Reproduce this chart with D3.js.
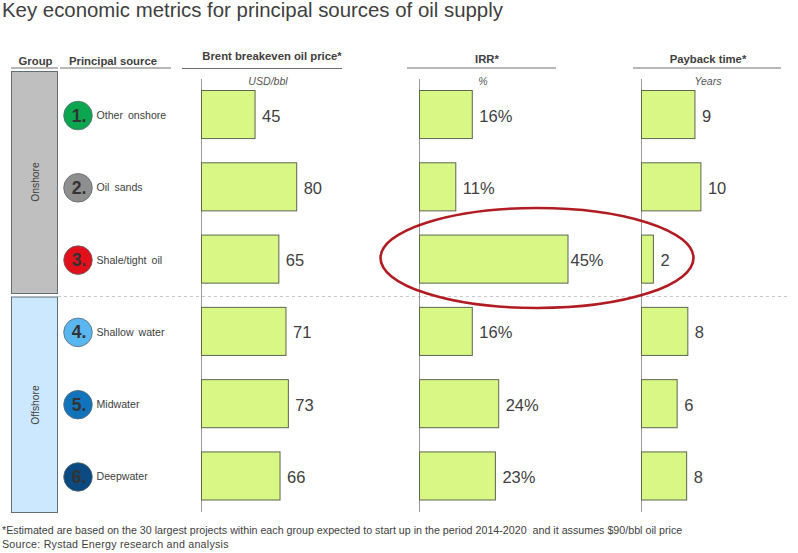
<!DOCTYPE html>
<html><head><meta charset="utf-8">
<script src="https://cdn.jsdelivr.net/npm/d3@7"></script>
<style>html,body{margin:0;padding:0;background:#fff}svg{display:block}text{font-family:"Liberation Sans",Arial,sans-serif}</style>
</head><body><svg id="c" width="798" height="553"></svg>
<script>
const sources = ["Other onshore","Oil sands","Shale/tight oil","Shallow water","Midwater","Deepwater"];
const dotColors = ["#0ba64f","#8f8f8f","#e2101a","#5ab6f0","#1273bd","#0b4a80"];
const breakeven = [45,80,65,71,73,66];
const irr = [16,11,45,16,24,23];
const payback = [9,10,2,7.8,6,7.6];
const groups = ["Onshore","Offshore"];
const panelTitles = ["Brent breakeven oil price*","IRR*","Payback time*"];
const panelUnits = ["USD/bbl","%","Years"];
const footnotes = ["*Estimated are based on the 30 largest projects within each group expected to start up in the period 2014-2020  and it assumes $90/bbl oil price","Source: Rystad Energy research and analysis"];

const svg = d3.select("#c");
const ink = "#404040";
svg.append("text").attr("x",2).attr("y",17).attr("font-size",20.4).attr("fill",ink).text("Key economic metrics for principal sources of oil supply");

function header(t,x1,x2,cx,y,ly){
  svg.append("text").attr("x",cx).attr("y",y).attr("text-anchor","middle").attr("font-size",11.3).attr("font-weight","bold").attr("fill",ink).text(t);
  svg.append("line").attr("x1",x1).attr("x2",x2).attr("y1",ly).attr("y2",ly).attr("stroke","#707070").attr("stroke-width",1.2);
}
header("Group",11,58,35.5,64.5,68);
header("Principal source",60,171,113,64.5,68);

const y = d3.scaleBand().domain(sources).range([90.5,500]).paddingInner(0.335);

// group boxes
const boxes = [[71.5,293.5,"#bfbfbf"],[297,512.5,"#cce8ff"]];
svg.selectAll("rect.g").data(groups).join("rect").attr("class","g")
  .attr("x",11.5).attr("width",46).attr("y",(d,i)=>boxes[i][0]).attr("height",(d,i)=>boxes[i][1]-boxes[i][0])
  .attr("fill",(d,i)=>boxes[i][2]).attr("stroke","#5f6f78").attr("stroke-width",1);
svg.selectAll("text.g").data(groups).join("text").attr("class","g")
  .attr("transform",(d,i)=>`translate(36,${(i?405:182)}) rotate(-90)`).attr("text-anchor","middle").attr("dominant-baseline","middle")
  .attr("font-size",10.3).attr("fill",ink).text(d=>d);

// dashed divider
svg.append("line").attr("x1",58).attr("x2",787).attr("y1",296.5).attr("y2",296.5).attr("stroke","#c8c8c8").attr("stroke-width",1).attr("stroke-dasharray","3 3");

// source dots
const row = svg.selectAll("g.r").data(sources).join("g").attr("class","r")
  .attr("transform",d=>`translate(0,${y(d)+y.bandwidth()/2})`);
row.append("circle").attr("cx",78).attr("cy",1).attr("r",14.3).attr("fill",(d,i)=>dotColors[i]).attr("stroke","#5a6a70").attr("stroke-width",.8);
row.append("text").attr("x",79).attr("y",7).attr("text-anchor","middle").attr("font-size",17.5).attr("font-weight","bold").attr("fill","#333").text((d,i)=>(i+1)+".");
row.append("text").attr("x",96.5).attr("y",4.5).attr("font-size",10.6).attr("word-spacing",2).attr("fill",ink).text(d=>d);

const panels = [
 {vals:breakeven,fmt:d3.format(".0f"),axisX:201.5,k:1.19,hx1:182,hx2:342,hc:272,hy:60,hl:68.5,ux:268,lx:7},
 {vals:irr,fmt:v=>d3.format(".0f")(v)+"%",axisX:419.5,k:3.3,hx1:407,hx2:556,hc:487,hy:63,hl:68,ux:483,lx:7},
 {vals:payback,fmt:d3.format(".0f"),axisX:641.5,k:5.94,hx1:633,hx2:781,hc:708,hy:62.5,hl:68,ux:708,lx:7}
];
panels.forEach((p,pi)=>{
  header(panelTitles[pi],p.hx1,p.hx2,p.hc,p.hy,p.hl);
  svg.append("text").attr("x",p.ux).attr("y",84.5).attr("text-anchor","middle").attr("font-size",10.6).attr("font-style","italic").attr("fill","#555").text(panelUnits[pi]);
  const x = d3.scaleLinear().domain([0,100]).range([p.axisX,p.axisX+p.k*100]);
  svg.append("line").attr("x1",p.axisX).attr("x2",p.axisX).attr("y1",79).attr("y2",512).attr("stroke","#9a9a9a").attr("stroke-width",1);
  const g = svg.append("g");
  g.selectAll("rect").data(p.vals).join("rect")
    .attr("x",x(0)).attr("y",(d,i)=>y(sources[i])).attr("width",d=>x(d)-x(0)).attr("height",y.bandwidth())
    .attr("fill","#d8f785").attr("stroke","#5c6650").attr("stroke-width",1);
  g.selectAll("text").data(p.vals).join("text")
    .attr("x",d=>x(d)+(pi==1&&d==45?2.5:p.lx)).attr("y",(d,i)=>y(sources[i])+y.bandwidth()/2+7)
    .attr("font-size",16.5).attr("fill",ink).text(d=>p.fmt(d));
});
// highlight ellipse
svg.append("ellipse").attr("cx",537).attr("cy",258).attr("rx",156.5).attr("ry",50)
  .attr("fill","none").attr("stroke","#b01c22").attr("stroke-width",2.6);

svg.selectAll("text.f").data(footnotes).join("text").attr("class","f").attr("x",2).attr("y",(d,i)=>534+i*13.5)
  .attr("font-size",10.7).attr("letter-spacing",(d,i)=>i?0.23:0).attr("fill",ink).style("white-space","pre").text(d=>d);
</script></body></html>
